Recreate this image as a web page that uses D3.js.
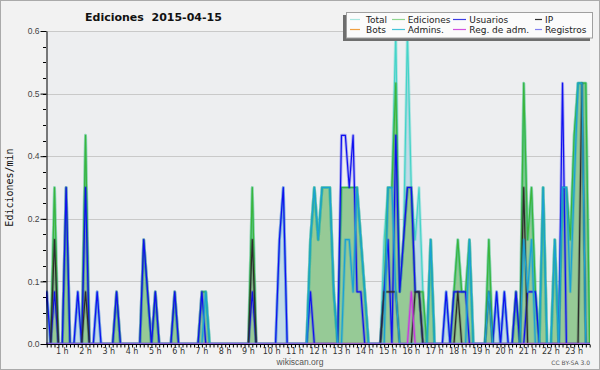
<!DOCTYPE html>
<html><head><meta charset="utf-8">
<script src="https://cdn.jsdelivr.net/npm/d3@7"></script>
<style>
body{margin:0;background:#f2f2f2;}
svg{display:block;}
</style></head><body>
<svg id="c" width="600" height="370"></svg>
<script>
// 10-minute bins, 144 per day (values in edits/min)
const total = [
 0,0,0.1,0,0.3,0,0,0.3,0,0,0.1,0,
 0.4,0,0,0.1,0,0,0,0,0.1,0,0,0,
 0,0,0,0.2,0.1,0,0.1,0,0,0,0,0.1,
 0,0,0,0,0,0,0.1,0.1,0,0,0,0,
 0,0,0,0,0,0,0,0.3,0,0,0,0,
 0,0,0.2,0.3,0,0,0,0,0,0,0.2,0.3,
 0.2,0.3,0.3,0.3,0.1,0,0.3,0.3,0.3,0.3,0.3,0.2,
 0.1,0,0,0,0,0.2,0.3,0.3,0.6,0.1,0.2,0.6,
 0.3,0.2,0.3,0.1,0,0.2,0,0,0,0.1,0,0.1,
 0.2,0.1,0.1,0.2,0,0,0,0,0.2,0,0.1,0,
 0.1,0,0,0.1,0,0.5,0.2,0.3,0.1,0,0.3,0,
 0,0.2,0,0.3,0.3,0.2,0.4,0.5,0.5,0.5,0,0];
const ediciones = [
 0,0,0,0,0.3,0,0,0.3,0,0,0,0,
 0.4,0,0,0,0,0,0,0,0.1,0,0,0,
 0,0,0,0.2,0.1,0,0.1,0,0,0,0,0.1,
 0,0,0,0,0,0,0.1,0.1,0,0,0,0,
 0,0,0,0,0,0,0,0.3,0,0,0,0,
 0,0,0,0,0,0,0,0,0,0,0.2,0.3,
 0.2,0.3,0.3,0.3,0.1,0,0.3,0.3,0.3,0.3,0.3,0.2,
 0.1,0,0,0,0,0.1,0.3,0.3,0.5,0.1,0.2,0.3,
 0.3,0.1,0.1,0.1,0,0.2,0,0,0,0,0,0.1,
 0.2,0.1,0.1,0.2,0,0,0,0,0.2,0,0,0,
 0,0,0,0.1,0,0.5,0.2,0.3,0.1,0,0.3,0,
 0,0.2,0,0.3,0.3,0.2,0.4,0.5,0.5,0.5,0,0];
const usuarios = [
 0,0,0.1,0,0.1,0,0,0.3,0,0,0.1,0,
 0.3,0,0,0.1,0,0,0,0,0.1,0,0,0,
 0,0,0,0.2,0.1,0,0.1,0,0,0,0,0.1,
 0,0,0,0,0,0,0.1,0,0,0,0,0,
 0,0,0,0,0,0,0,0.1,0,0,0,0,
 0,0,0.2,0.3,0,0,0,0,0,0,0.1,0,
 0,0,0,0,0,0,0.4,0.4,0.3,0.4,0.1,0.1,
 0,0,0,0,0,0.1,0.2,0,0.4,0.1,0.2,0.3,
 0.3,0.1,0.1,0,0,0,0,0,0,0.1,0,0.1,
 0.1,0.1,0.1,0,0,0,0,0,0,0,0.1,0,
 0.1,0,0,0.1,0,0,0.1,0.1,0.1,0,0,0,
 0,0,0,0.5,0,0,0,0,0,0,0,0];
const ip = [
 0,0,0,0,0.2,0,0,0,0,0,0,0,
 0.1,0,0,0,0,0,0,0,0,0,0,0,
 0,0,0,0,0,0,0,0,0,0,0,0,
 0,0,0,0,0,0,0,0,0,0,0,0,
 0,0,0,0,0,0,0,0.2,0,0,0,0,
 0,0,0,0,0,0,0,0,0,0,0,0,
 0,0,0,0,0,0,0,0,0,0,0,0,
 0,0,0,0,0,0.1,0.1,0.1,0.1,0,0,0,
 0,0.1,0.1,0,0,0,0,0,0,0,0,0,
 0.1,0,0,0,0,0,0,0,0.1,0,0,0,
 0,0,0,0,0,0.3,0,0,0,0,0,0,
 0,0,0,0,0,0,0,0,0.5,0,0,0];
const bots = [
 0,0,0,0,0,0,0,0,0,0,0,0, 0,0,0,0,0,0,0,0,0,0,0,0,
 0,0,0,0,0,0,0,0,0,0,0,0, 0,0,0,0,0,0,0,0,0,0,0,0,
 0,0,0,0,0,0,0,0,0,0,0,0, 0,0,0,0,0,0,0,0,0,0,0,0,
 0,0,0,0,0,0,0,0,0,0,0,0, 0,0,0,0,0,0,0,0,0,0,0,0,
 0,0,0,0,0,0,0,0,0,0,0,0, 0,0,0,0,0,0,0,0,0,0,0,0,
 0,0,0,0,0,0,0,0,0,0,0,0, 0,0,0,0,0,0,0,0,0,0,0,0];
const admins = [
 0,0,0,0,0,0,0,0,0,0,0,0,
 0,0,0,0,0,0,0,0,0,0,0,0,
 0,0,0,0,0,0,0,0,0,0,0,0,
 0,0,0,0,0,0,0,0.1,0,0,0,0,
 0,0,0,0,0,0,0,0,0,0,0,0,
 0,0,0,0,0,0,0,0,0,0,0.2,0.3,
 0.2,0.3,0.3,0.3,0.1,0,0,0.2,0.2,0.1,0.3,0.2,
 0.1,0,0,0,0,0,0.3,0.3,0.1,0,0,0,
 0,0,0,0,0,0.2,0,0,0,0,0,0,
 0,0,0,0.2,0,0,0,0,0.1,0,0,0,
 0,0,0,0,0,0.2,0.1,0.2,0,0,0.3,0,
 0,0.2,0,0.3,0.3,0.1,0.3,0.5,0.5,0,0,0];
const regAdm = [
 0,0,0,0,0,0,0,0,0,0,0,0, 0,0,0,0,0,0,0,0,0,0,0,0,
 0,0,0,0,0,0,0,0,0,0,0,0, 0,0,0,0,0,0,0,0,0,0,0,0,
 0,0,0,0,0,0,0,0,0,0,0,0, 0,0,0,0,0,0,0,0,0,0,0,0,
 0,0,0,0,0,0,0,0,0,0,0,0, 0,0,0,0,0,0,0,0,0,0,0,0,
 0.1,0,0,0,0,0,0,0,0,0,0,0, 0,0,0,0,0,0,0,0,0,0,0,0,
 0,0,0,0,0,0,0,0,0,0,0,0, 0,0,0,0,0,0,0,0,0,0,0,0];
const registros = [
 0,0,0,0,0,0,0,0,0,0,0,0, 0,0,0,0,0,0,0,0,0,0,0,0,
 0,0,0,0,0,0,0,0,0,0,0,0, 0,0,0,0,0,0,0,0,0,0,0,0,
 0,0,0,0,0,0,0,0,0,0,0,0, 0,0,0,0,0,0,0,0,0,0,0,0,
 0,0,0,0,0,0,0,0,0,0,0,0, 0,0,0,0,0,0,0,0,0,0,0,0,
 0,0,0,0,0,0,0,0,0,0,0,0, 0,0,0,0,0,0,0,0,0,0,0,0,
 0,0,0,0,0,0,0,0,0,0,0,0, 0,0,0,0,0,0,0,0,0,0,0,0];

const hourLabels = ["1 h","2 h","3 h","4 h","5 h","6 h","7 h","8 h","9 h","10 h","11 h","12 h",
  "13 h","14 h","15 h","16 h","17 h","18 h","19 h","20 h","21 h","22 h","23 h"];
const yTicks = [0, 0.12, 0.24, 0.36, 0.48, 0.6];
const yTickLabels = ["0.0","0.1","0.2","0.4","0.5","0.6"];
const legendNames = ["Total","Ediciones","Usuarios","IP","Bots","Admins.","Reg. de adm.","Registros"];

const colors = {
  total:"#44d4c8", ediciones:"#3cb43c", usuarios:"#1010f0", ip:"#2c2c2c",
  bots:"#f0a030", admins:"#1aa2d4", regAdm:"#c838e0", registros:"#7a7af0"
};
const legendColors = ["#a8e6e0","#8fd68f","#3c3ce4","#303030","#f0a040","#44c4d8","#d050e0","#8080f0"];

const svg = d3.select("#c");
const L = 46, R = 590, T = 31, B = 344;

svg.append("rect").attr("x",0.5).attr("y",0.5).attr("width",599).attr("height",369)
  .attr("fill","#f2f2f2").attr("stroke","#aaaaaa");
svg.append("rect").attr("x",L).attr("y",T).attr("width",R-L).attr("height",B-T).attr("fill","#edeef0");

const n = total.length;
const x = d3.scaleLinear().domain([0, n-1]).range([39, 39 + (n-1)*3.878]);
const y = d3.scaleLinear().domain([0, 0.6]).range([B, T]);

// grid
svg.append("g").selectAll("line").data(yTicks.slice(1)).join("line")
  .attr("x1",L).attr("x2",R).attr("y1",d=>Math.round(y(d))+0.5).attr("y2",d=>Math.round(y(d))+0.5)
  .attr("stroke","#c9c9c9").attr("stroke-width",1);

svg.append("defs").append("clipPath").attr("id","clip")
  .append("rect").attr("x",L).attr("y",T-1).attr("width",R-L).attr("height",B-T+1);

const plot = svg.append("g").attr("clip-path","url(#clip)");
const idx = d3.range(n);
const area = vals => d3.area().x(i=>x(i)).y0(B).y1(i=>y(vals[i]))(idx);
const line = vals => d3.line().x(i=>x(i)).y(i=>y(vals[i]))(idx);

plot.append("path").attr("d",area(total)).attr("fill","#c3dbe7");
plot.append("path").attr("d",area(ediciones)).attr("fill","#96ca96");

function drawLine(vals, color, halo=0.3){
  plot.append("path").attr("d",line(vals)).attr("fill","none").attr("stroke",color)
    .attr("stroke-width",3).attr("stroke-opacity",halo).attr("stroke-linejoin","round");
  plot.append("path").attr("d",line(vals)).attr("fill","none").attr("stroke",color)
    .attr("stroke-width",1.2).attr("stroke-linejoin","round");
}
drawLine(total, colors.total, 0.35);
drawLine(ediciones, colors.ediciones, 0.3);
drawLine(usuarios, colors.usuarios, 0.3);
drawLine(ip, colors.ip, 0.25);
drawLine(bots, colors.bots, 0.0);
drawLine(admins, colors.admins, 0.35);
drawLine(regAdm, colors.regAdm, 0.3);
drawLine(registros, colors.registros, 0.0);

// y axis
const yMinor = d3.range(0, 0.6001, 0.03);
svg.append("g").selectAll("line").data(yMinor).join("line")
  .attr("x1",L-3).attr("x2",L).attr("y1",d=>Math.round(y(d))+0.5).attr("y2",d=>Math.round(y(d))+0.5)
  .attr("stroke","#000");
const yAxis = svg.append("g").attr("transform",`translate(${L+0.5},0)`)
  .call(d3.axisLeft(y).tickValues(yTicks).tickFormat((d,i)=>yTickLabels[i]).tickSize(6).tickSizeOuter(0));
yAxis.select(".domain").attr("stroke","#000");
yAxis.selectAll(".tick line").attr("stroke","#000");
yAxis.selectAll(".tick text").attr("font-family","Liberation Sans, sans-serif").attr("font-size","8.5px")
  .attr("fill","#444").attr("x",-7);

// x axis
const xTickBins = idx.filter(i => x(i) >= L && x(i) <= R+0.5);
const xAxis = svg.append("g").attr("transform",`translate(0,${B+0.5})`)
  .call(d3.axisBottom(x).tickValues(xTickBins).tickFormat("").tickSize(3).tickSizeOuter(0));
xAxis.select(".domain").attr("stroke","#000").attr("d",`M${L},0H${R}`);
xAxis.selectAll(".tick line").attr("stroke","#000");
svg.append("g").selectAll("text").data(hourLabels).join("text")
  .attr("x",(d,i)=>x((i+1)*6)).attr("y",353.5).attr("text-anchor","middle")
  .attr("font-family","DejaVu Sans, sans-serif").attr("font-size","8px").attr("fill","#333").text(d=>d);

// texts
svg.append("text").attr("x",85).attr("y",21).attr("font-family","DejaVu Sans, sans-serif")
  .attr("font-weight","bold").attr("font-size","11px").attr("fill","#111").attr("xml:space","preserve")
  .text("Ediciones  2015-04-15");
svg.append("text").attr("transform","translate(13,187.5) rotate(-90)").attr("text-anchor","middle")
  .attr("font-family","DejaVu Sans Mono, monospace").attr("font-size","10px").attr("fill","#111")
  .text("Ediciones/min");
svg.append("text").attr("x",300).attr("y",364.5).attr("text-anchor","middle")
  .attr("font-family","Liberation Sans, sans-serif").attr("font-size","8.5px").attr("fill","#555")
  .text("wikiscan.org");
svg.append("text").attr("x",590).attr("y",365).attr("text-anchor","end")
  .attr("font-family","DejaVu Sans, sans-serif").attr("font-size","6px").attr("fill","#555")
  .text("CC BY-SA 3.0");

// legend
const lg = svg.append("g");
lg.append("rect").attr("x",343).attr("y",15).attr("width",247).attr("height",26).attr("fill","#6e6e6e");
lg.append("rect").attr("x",346.5).attr("y",12.5).attr("width",246).attr("height",25.5)
  .attr("fill","#fbfbfb").attr("stroke","#a0a0a0");
const colText = [366, 407.7, 469.3, 545];
const colLine = [[350,360],[392,405],[453,466],[535,542]];
legendNames.forEach((nm,k)=>{
  const c = k%4, r = Math.floor(k/4);
  const ly = r ? 29.5 : 19.5;
  lg.append("line").attr("x1",colLine[c][0]).attr("x2",colLine[c][1]).attr("y1",ly).attr("y2",ly)
    .attr("stroke",legendColors[k]).attr("stroke-width",1.2);
  lg.append("text").attr("x",colText[c]).attr("y",r ? 32.5 : 22.5)
    .attr("font-family","DejaVu Sans, sans-serif").attr("font-size","9px").attr("fill","#222").text(nm);
});
</script>
</body></html>
